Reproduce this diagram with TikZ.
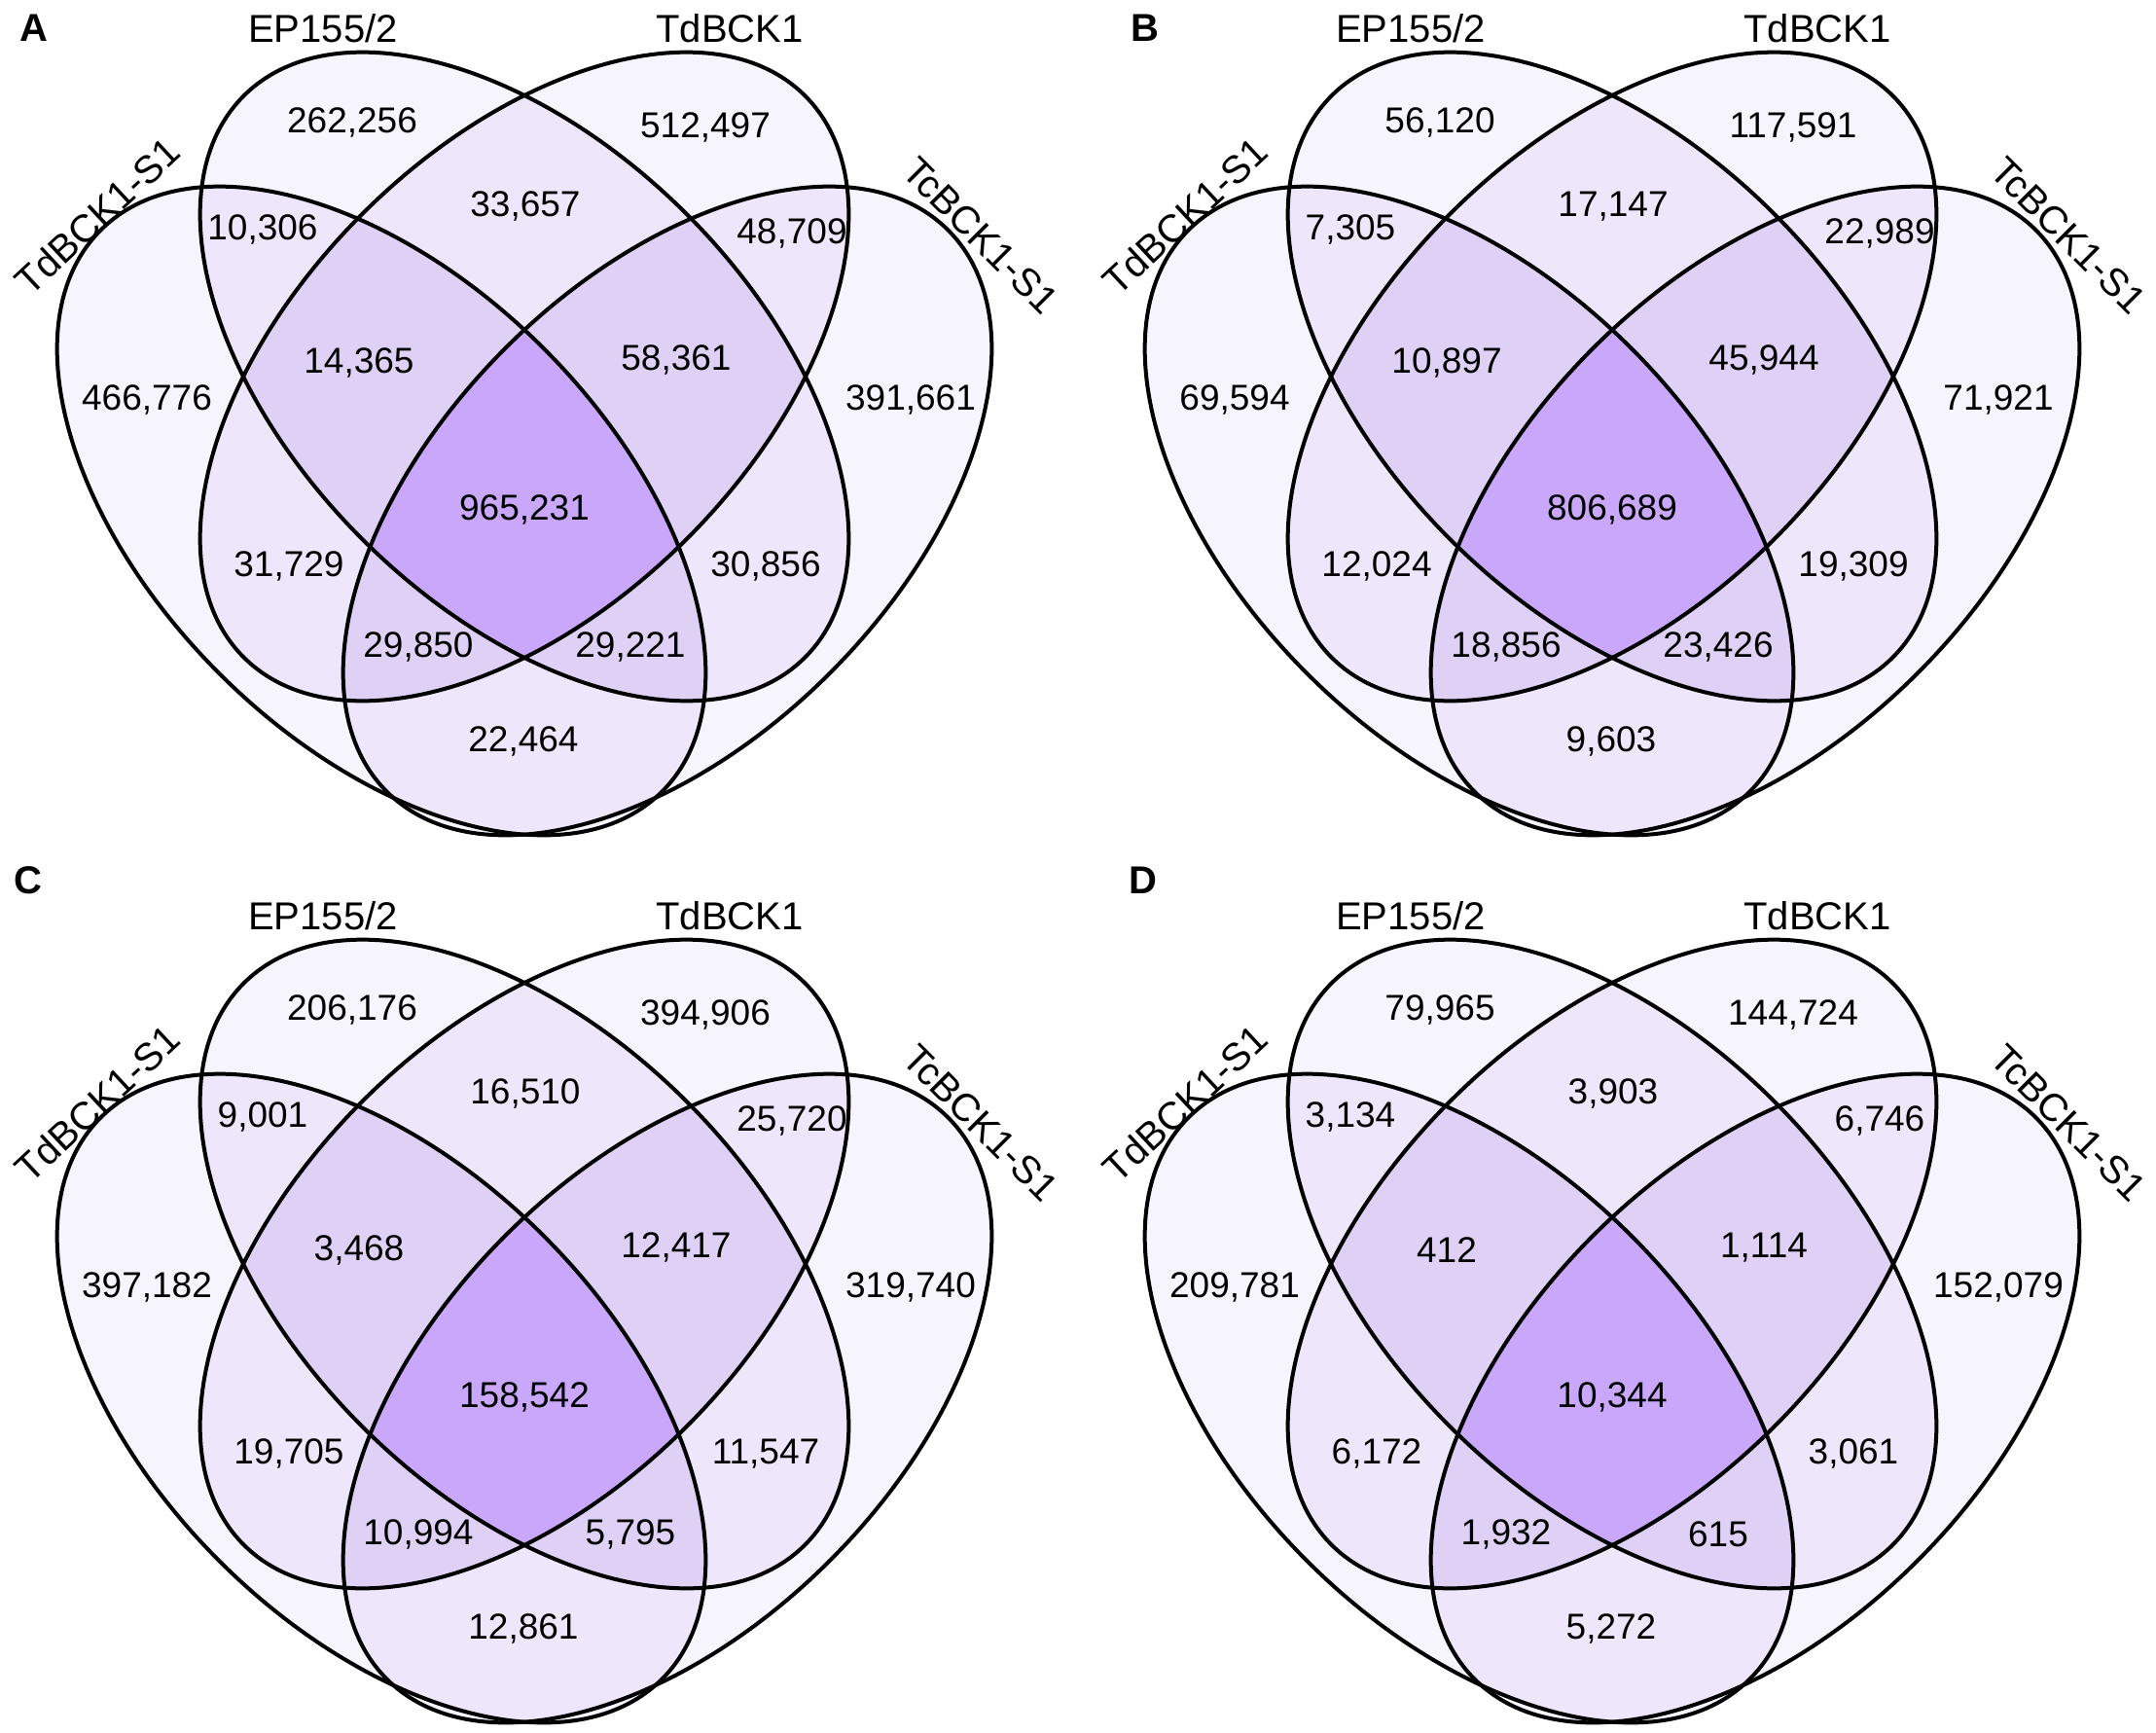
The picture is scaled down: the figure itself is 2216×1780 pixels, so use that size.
\documentclass[tikz,border=0pt]{standalone}
\usepackage{fontspec}
\setmainfont{Liberation Sans}
\definecolor{vone}{HTML}{F6F4FC}
\definecolor{vtwo}{HTML}{EEE6FA}
\definecolor{vthree}{HTML}{DFD1F6}
\definecolor{vfour}{HTML}{C9A8FC}
\tikzset{
  EA/.style={rotate around={-45:(392,525)}, insert path={(392,525) ellipse [x radius=408pt, y radius=236pt]}},
  EB/.style={rotate around={-45:(539,387)}, insert path={(539,387) ellipse [x radius=408pt, y radius=236pt]}},
  EC/.style={rotate around={45:(539,387)}, insert path={(539,387) ellipse [x radius=408pt, y radius=236pt]}},
  ED/.style={rotate around={45:(686,525)}, insert path={(686,525) ellipse [x radius=408pt, y radius=236pt]}},
  num/.style={font=\fontsize{37}{44}\selectfont, inner sep=0pt},
  catlbl/.style={font=\fontsize{40}{48}\selectfont, inner sep=0pt},
  letter/.style={font=\fontsize{40}{48}\selectfont\bfseries, inner sep=0pt},
  outline/.style={draw=black, line width=4pt},
}
\newcommand\vennshapes{%
  \fill[fill=vone,EA]; \fill[fill=vone,EB]; \fill[fill=vone,EC]; \fill[fill=vone,ED];
  \begin{scope}\clip[EA]; \fill[fill=vtwo,EB]; \fill[fill=vtwo,EC]; \fill[fill=vtwo,ED];\end{scope}
  \begin{scope}\clip[EB]; \fill[fill=vtwo,EC]; \fill[fill=vtwo,ED];\end{scope}
  \begin{scope}\clip[EC]; \fill[fill=vtwo,ED];\end{scope}
  \begin{scope}\clip[EA]; \clip[EB]; \fill[fill=vthree,EC]; \fill[fill=vthree,ED];\end{scope}
  \begin{scope}\clip[EA]; \clip[EC]; \fill[fill=vthree,ED];\end{scope}
  \begin{scope}\clip[EB]; \clip[EC]; \fill[fill=vthree,ED];\end{scope}
  \begin{scope}\clip[EA]; \clip[EB]; \clip[EC]; \fill[fill=vfour,ED];\end{scope}
  \draw[outline,EA]; \draw[outline,EB]; \draw[outline,EC]; \draw[outline,ED];
}
\newcommand\numsa[9]{%
  \node[num] (#1n1) at (362,126) {#2};
  \node[num] (#1n2) at (725,131) {#3};
  \node[num] (#1n3) at (540,212) {#4};
  \node[num] (#1n4) at (270,236) {#5};
  \node[num] (#1n5) at (814,240) {#6};
  \node[num] (#1n6) at (369,373) {#7};
  \node[num] (#1n7) at (695,370) {#8};
  \node[num] (#1n8) at (151,411) {#9};
}
\newcommand\numsb[8]{%
  \node[num] (#1n9) at (936,411) {#2};
  \node[num] (#1n10) at (539,524) {#3};
  \node[num] (#1n11) at (297,582) {#4};
  \node[num] (#1n12) at (787,582) {#5};
  \node[num] (#1n13) at (430,665) {#6};
  \node[num] (#1n14) at (648,665) {#7};
  \node[num] (#1n15) at (538,762) {#8};
}
\newcommand\catlabels[1]{%
  \node[catlbl] (#1c1) at (332,29) {EP155/2};
  \node[catlbl] (#1c2) at (750,29) {TdBCK1};
  \node[catlbl, rotate=43] (#1c3) at (100,222) {TdBCK1-S1};
  \node[catlbl, rotate=-45] (#1c4) at (1008,242) {TcBCK1-S1};
}
\begin{document}
\begin{tikzpicture}[x=1pt,y=-1pt]
\useasboundingbox (0,0) rectangle (2216,1780);
\fill[white] (0,0) rectangle (2216,1780);
% Panel A
\begin{scope}
  \vennshapes
  \catlabels{A}
  \numsa{A}{262,256}{512,497}{33,657}{10,306}{48,709}{14,365}{58,361}{466,776}
  \numsb{A}{391,661}{965,231}{31,729}{30,856}{29,850}{29,221}{22,464}
\end{scope}
% Panel B
\begin{scope}[shift={(1118,0)}]
  \vennshapes
  \catlabels{B}
  \numsa{B}{56,120}{117,591}{17,147}{7,305}{22,989}{10,897}{45,944}{69,594}
  \numsb{B}{71,921}{806,689}{12,024}{19,309}{18,856}{23,426}{9,603}
\end{scope}
% Panel C
\begin{scope}[shift={(0,912)}]
  \vennshapes
  \catlabels{C}
  \numsa{C}{206,176}{394,906}{16,510}{9,001}{25,720}{3,468}{12,417}{397,182}
  \numsb{C}{319,740}{158,542}{19,705}{11,547}{10,994}{5,795}{12,861}
\end{scope}
% Panel D
\begin{scope}[shift={(1118,912)}]
  \vennshapes
  \catlabels{D}
  \numsa{D}{79,965}{144,724}{3,903}{3,134}{6,746}{412}{1,114}{209,781}
  \numsb{D}{152,079}{10,344}{6,172}{3,061}{1,932}{615}{5,272}
\end{scope}
\node[letter] (LA) at (35,29) {A};
\node[letter] (LB) at (1177,29) {B};
\node[letter] (LC) at (29,905) {C};
\node[letter] (LD) at (1175,905) {D};
\end{tikzpicture}
\end{document}
